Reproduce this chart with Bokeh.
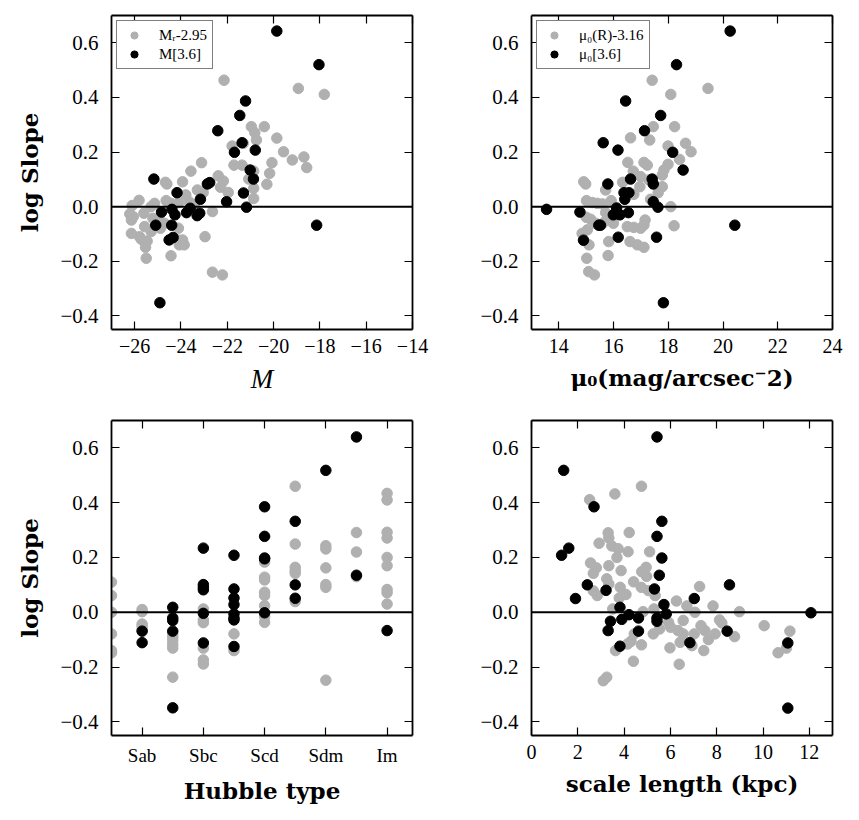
from bokeh.plotting import figure
from bokeh.layouts import column, row
from bokeh.models import (FixedTicker, LinearAxis, Span, CustomJSTickFormatter,
                          Range1d, Legend, LegendItem)
from bokeh.embed import file_html
from bokeh.resources import INLINE

# ---------------- data ----------------
# log slope versus absolute magnitude
mag_R = [-22.14, -18.93, -17.81, -20.96, -20.40, -20.81, -20.74, -19.86, -21.79, -21.31,
         -19.57, -18.69, -19.19, -18.57, -20.07, -23.11, -23.57, -21.71, -21.36, -20.86,
         -20.17, -20.29, -21.07, -20.86, -20.86, -22.39, -22.17, -22.29, -21.96, -23.93,
         -24.61, -24.67, -23.79, -23.29, -23.04, -25.81, -26.11, -25.14, -24.64, -24.43,
         -24.10, -23.64, -23.43, -25.29, -26.21, -26.06, -25.60, -26.14, -25.21, -24.93,
         -24.71, -25.57, -25.29, -24.89, -24.11, -22.64, -22.96, -26.14, -25.79, -25.71,
         -25.46, -25.53, -24.14, -23.93, -24.07, -23.86, -24.43, -25.50, -22.64, -22.21]
slope_mag_R = [0.463, 0.433, 0.411, 0.293, 0.293, 0.271, 0.244, 0.251, 0.222, 0.232,
               0.201, 0.182, 0.171, 0.143, 0.161, 0.161, 0.130, 0.152, 0.152, 0.130,
               0.122, 0.082, 0.101, 0.067, 0.030, 0.113, 0.094, 0.071, 0.052, 0.091,
               0.083, 0.089, 0.043, 0.061, 0.052, 0.023, 0.004, 0.012, 0.022, 0.012,
               0.015, 0.017, 0.006, 0.000, -0.027, -0.037, -0.024, -0.049, -0.043, -0.049,
               -0.061, -0.073, -0.091, -0.079, -0.079, -0.018, -0.110, -0.098, -0.110, -0.120,
               -0.126, -0.149, -0.122, -0.122, -0.140, -0.140, -0.180, -0.189, -0.240, -0.250]
mag_36 = [-19.86, -18.04, -21.21, -21.46, -22.41, -21.36, -21.69, -20.79, -21.01, -20.87,
          -25.17, -22.86, -22.76, -24.17, -21.30, -23.16, -22.03, -21.17, -24.84, -24.39,
          -24.26, -23.76, -23.60, -23.30, -23.19, -25.09, -24.40, -24.51, -24.34, -18.14,
          -24.91]
slope_mag_36 = [0.643, 0.520, 0.387, 0.334, 0.278, 0.234, 0.199, 0.207, 0.134, 0.101,
                0.101, 0.083, 0.088, 0.051, 0.050, 0.027, 0.018, -0.002, -0.020, -0.010,
                -0.030, -0.022, -0.006, -0.033, -0.024, -0.068, -0.068, -0.122, -0.113, -0.068,
                -0.352]

# log slope versus central surface brightness
mu_R = [17.41, 19.45, 18.09, 17.45, 18.23, 16.62, 17.32, 17.99, 18.63, 18.83,
        18.41, 16.52, 17.11, 17.23, 17.99, 17.84, 16.72, 16.99, 17.78, 14.91,
        14.98, 15.71, 16.33, 17.29, 16.96, 17.78, 17.63, 16.74, 15.91, 15.01,
        15.22, 15.40, 15.59, 17.35, 18.09, 15.71, 15.89, 15.00, 15.16, 15.74,
        15.34, 15.59, 15.99, 16.50, 16.74, 16.99, 17.15, 17.11, 18.21, 14.85,
        15.04, 15.10, 15.82, 15.80, 16.60, 16.87, 17.11, 15.02, 15.09, 15.30]
slope_mu_R = [0.463, 0.433, 0.411, 0.293, 0.293, 0.252, 0.244, 0.222, 0.232, 0.201,
              0.173, 0.162, 0.162, 0.152, 0.155, 0.134, 0.130, 0.110, 0.116, 0.091,
              0.083, 0.061, 0.089, 0.098, 0.073, 0.073, 0.051, 0.045, 0.022, 0.022,
              0.015, 0.012, 0.010, 0.027, 0.000, -0.022, -0.033, -0.039, -0.046, -0.049,
              -0.061, -0.063, -0.061, -0.073, -0.076, -0.079, -0.049, -0.067, -0.070, -0.098,
              -0.085, -0.140, -0.128, -0.179, -0.128, -0.140, -0.149, -0.189, -0.238, -0.250]
mu_36 = [20.26, 18.30, 16.44, 17.72, 17.13, 15.62, 16.16, 18.16, 18.54, 16.62,
         17.41, 17.45, 15.79, 16.38, 16.56, 16.41, 17.45, 13.55, 14.77, 16.11,
         17.62, 15.99, 16.23, 16.54, 15.46, 15.52, 20.43, 16.17, 17.57, 14.90,
         17.82]
slope_mu_36 = [0.643, 0.520, 0.387, 0.334, 0.278, 0.234, 0.207, 0.199, 0.134, 0.101,
               0.101, 0.083, 0.083, 0.051, 0.051, 0.027, 0.018, -0.010, -0.020, -0.005,
               -0.002, -0.030, -0.030, -0.022, -0.068, -0.068, -0.068, -0.112, -0.112, -0.123,
               -0.352]

# log slope versus Hubble type
hubble_types = ["Sa", "Sab", "Sb", "Sbc", "Sc", "Scd", "Sd", "Sdm", "Sm", "Im"]
hubble_tick_labels = ["Sab", "Sbc", "Scd", "Sdm", "Im"]
type_R = (["Sa"] * 6 + ["Sab"] * 5 + ["Sb"] * 6 + ["Sbc"] * 6 + ["Sc"] * 2 + ["Scd"] * 9
          + ["Sd"] * 6 + ["Sdm"] * 6 + ["Sm"] * 3 + ["Im"] * 9)
slope_type_R = [0.110, 0.061, 0.000, -0.079, -0.140, -0.148,
                0.010, 0.002, -0.043, -0.052, -0.065,
                -0.079, -0.091, -0.103, -0.118, -0.131, -0.237,
                0.012, -0.028, -0.038, -0.131, -0.174, -0.189,
                -0.079, -0.140,
                0.183, 0.128, 0.118, 0.073, 0.061, 0.024, -0.004, -0.016, -0.037,
                0.460, 0.249, 0.164, 0.152, 0.142, 0.039,
                0.243, 0.231, 0.162, 0.101, 0.091, -0.248,
                0.291, 0.220, 0.130,
                0.434, 0.410, 0.292, 0.271, 0.200, 0.170, 0.083, 0.071, 0.030]
type_36 = (["Sab"] * 2 + ["Sb"] * 5 + ["Sbc"] * 6 + ["Sc"] * 8 + ["Scd"] * 5
           + ["Sd"] * 3 + ["Sdm"] * 1 + ["Sm"] * 2 + ["Im"] * 1)
slope_type_36 = [-0.069, -0.111,
                 0.018, -0.021, -0.030, -0.069, -0.349,
                 0.234, 0.101, 0.091, 0.082, -0.004, -0.112,
                 0.208, 0.085, 0.052, 0.028, -0.006, -0.021, -0.028, -0.125,
                 0.385, 0.277, 0.198, 0.195, -0.002,
                 0.332, 0.100, 0.051,
                 0.518,
                 0.640, 0.135,
                 -0.067]

# log slope versus disc scale length
h_R = [4.75, 3.60, 2.51, 3.31, 3.34, 4.22, 2.92, 3.47, 3.74, 4.17,
       5.10, 3.69, 2.55, 2.80, 3.34, 2.67, 3.87, 4.95, 4.76, 4.97,
       3.25, 3.34, 4.41, 3.83, 4.74, 2.67, 2.84, 5.05, 5.34, 4.08,
       3.79, 7.26, 6.26, 6.71, 7.84, 7.06, 8.98, 3.51, 4.82, 5.29,
       5.92, 6.01, 6.33, 6.55, 6.55, 7.32, 7.49, 7.03, 7.64, 7.93,
       8.12, 8.22, 8.77, 10.05, 11.16, 10.65, 11.01, 6.42, 6.93, 5.98,
       7.44, 6.38, 5.26, 5.53, 4.75, 4.30, 4.15, 4.40, 3.63, 4.44,
       3.10, 3.25]
slope_h_R = [0.460, 0.432, 0.411, 0.290, 0.271, 0.291, 0.252, 0.242, 0.232, 0.221,
             0.221, 0.200, 0.180, 0.162, 0.170, 0.142, 0.152, 0.164, 0.148, 0.131,
             0.122, 0.103, 0.111, 0.091, 0.091, 0.078, 0.061, 0.079, 0.061, 0.065,
             0.052, 0.094, 0.041, 0.023, 0.023, 0.000, 0.002, 0.012, 0.002, 0.012,
             -0.037, -0.055, -0.067, -0.030, -0.079, -0.049, -0.067, -0.079, -0.100, -0.079,
             -0.028, -0.039, -0.089, -0.049, -0.069, -0.148, -0.131, -0.110, -0.122, -0.130,
             -0.140, -0.190, -0.079, -0.061, -0.119, -0.106, -0.116, -0.179, -0.140, -0.079,
             -0.250, -0.237]
h_36 = [5.42, 1.39, 2.70, 5.63, 5.42, 1.61, 1.30, 5.63, 5.52, 8.55,
        2.41, 5.31, 3.22, 1.90, 7.03, 5.72, 3.82, 12.07, 5.82, 4.21,
        3.90, 4.62, 5.42, 5.42, 3.41, 3.31, 4.62, 8.45, 6.84, 11.07,
        3.82, 11.07]
slope_h_36 = [0.640, 0.518, 0.385, 0.332, 0.277, 0.234, 0.208, 0.198, 0.135, 0.100,
              0.100, 0.085, 0.080, 0.050, 0.050, 0.028, 0.018, -0.002, -0.006, -0.009,
              -0.026, -0.021, -0.021, -0.033, -0.033, -0.067, -0.069, -0.069, -0.111, -0.112,
              -0.124, -0.350]

# ---------------- styling ----------------
GREY = "#b0b0b0"
TICK_FONT = "Liberation Serif"
LABEL_FONT = "DejaVu Serif"
Y_TICKS = [-0.4, -0.2, 0.0, 0.2, 0.4, 0.6]
MINUS_FMT = "return (Math.abs(tick) < 1e-9 ? 0 : tick).toFixed(DIG).replace('-', '\u2212');"


def blank_fmt():
    return CustomJSTickFormatter(code="return '';")


def style_axis(ax, ticks, formatter, show_labels=True, font_size="20px", standoff=8):
    ax.ticker = FixedTicker(ticks=ticks)
    ax.formatter = formatter if show_labels else blank_fmt()
    ax.major_tick_in = 8
    ax.major_tick_out = 0
    ax.minor_tick_in = 0
    ax.minor_tick_out = 0
    ax.major_tick_line_width = 1.2
    ax.major_tick_line_color = "black"
    ax.axis_line_width = 1.8
    ax.axis_line_color = "black"
    ax.major_label_text_color = "black"
    ax.axis_label_text_color = "black"
    ax.major_label_text_font = TICK_FONT
    ax.major_label_text_font_size = font_size if show_labels else "1px"
    ax.major_label_standoff = standoff if show_labels else 0


def panel(xr, x_ticks, x_fmt, left, right, top, bottom, frame_h,
          xlabel, ylabel, xlabel_style="bold", x_font_size="20px"):
    w = left + 301 + right
    h = top + frame_h + bottom
    p = figure(width=w, height=h, frame_width=301, frame_height=frame_h,
               x_range=Range1d(*xr), y_range=Range1d(-0.45, 0.7),
               output_backend="svg", toolbar_location=None,
               min_border_left=left, min_border_right=right,
               min_border_top=top, min_border_bottom=bottom)
    p.xgrid.visible = False
    p.ygrid.visible = False
    p.outline_line_color = None
    p.background_fill_color = "white"
    p.border_fill_color = "white"

    xax = p.xaxis[0]
    yax = p.yaxis[0]
    style_axis(xax, x_ticks, x_fmt, font_size=x_font_size, standoff=9)
    style_axis(yax, Y_TICKS, CustomJSTickFormatter(code=MINUS_FMT.replace("DIG", "1")),
               font_size="21px", standoff=13)

    xax.axis_label = xlabel
    xax.axis_label_text_font = LABEL_FONT if xlabel_style == "bold" else TICK_FONT
    xax.axis_label_text_font_style = xlabel_style
    xax.axis_label_text_font_size = "23px" if xlabel_style == "bold" else "27px"
    xax.axis_label_standoff = 8
    if ylabel:
        yax.axis_label = ylabel
        yax.axis_label_text_font = LABEL_FONT
        yax.axis_label_text_font_style = "bold"
        yax.axis_label_text_font_size = "23px"
        yax.axis_label_standoff = 14

    # tick marks on the top and right edges of the frame
    top_ax = LinearAxis()
    right_ax = LinearAxis()
    style_axis(top_ax, x_ticks, None, show_labels=False)
    style_axis(right_ax, Y_TICKS, None, show_labels=False)
    p.add_layout(top_ax, "above")
    p.add_layout(right_ax, "right")

    p.add_layout(Span(location=0, dimension="width", line_color="black", line_width=2))
    return p


def add_points(p, xg, yg, xb, yb, labels=None):
    rg = p.scatter(xg, yg, size=10.5, fill_color=GREY, line_color=GREY)
    rb = p.scatter(xb, yb, size=10.5, fill_color="black", line_color="black")
    if labels:
        leg = Legend(items=[LegendItem(label=labels[0], renderers=[rg]),
                            LegendItem(label=labels[1], renderers=[rb])],
                     location="top_left")
        leg.margin = 5
        leg.padding = 5
        leg.spacing = 1
        leg.glyph_width = 24
        leg.glyph_height = 18
        leg.label_height = 18
        leg.label_standoff = 13
        leg.label_text_font = TICK_FONT
        leg.label_text_font_size = "15px"
        leg.label_text_color = "black"
        leg.border_line_color = "black"
        leg.border_line_width = 1.8
        leg.background_fill_alpha = 1.0
        p.add_layout(leg)


def int_fmt():
    return CustomJSTickFormatter(code=MINUS_FMT.replace("DIG", "0"))


p1 = panel((-27, -14), list(range(-26, -13, 2)), int_fmt(), 111, 39, 15, 76, 314,
           "M", "log Slope", xlabel_style="italic")
add_points(p1, mag_R, slope_mag_R, mag_36, slope_mag_36,
           labels=["M\u1d63-2.95", "M[3.6]"])

p2 = panel((13, 24), list(range(14, 25, 2)), int_fmt(), 80, 27, 15, 76, 314,
           "\u03bc\u2080(mag/arcsec\u207b2)", None)
add_points(p2, mu_R, slope_mu_R, mu_36, slope_mu_36,
           labels=["\u03bc\u2080(R)-3.16", "\u03bc\u2080[3.6]"])

type_code = {t: i + 1 for i, t in enumerate(hubble_types)}
hubble_ticks = [type_code[t] for t in hubble_tick_labels]
hubble_fmt = CustomJSTickFormatter(
    args=dict(tpos=hubble_ticks, tlab=hubble_tick_labels),
    code="const i = tpos.indexOf(Math.round(tick)); return i >= 0 ? tlab[i] : '';")
p3 = panel((1, 10.83), hubble_ticks, hubble_fmt, 111, 39, 15, 85, 315,
           "Hubble type", "log Slope", x_font_size="19px")
add_points(p3, [type_code[t] for t in type_R], slope_type_R,
           [type_code[t] for t in type_36], slope_type_36)

p4 = panel((0, 13), list(range(0, 13, 2)), int_fmt(), 80, 27, 15, 85, 315,
           "scale length (kpc)", None)
add_points(p4, h_R, slope_h_R, h_36, slope_h_36)

layout = column(row(p1, p2), row(p3, p4))
open("out.html", "w").write(file_html(layout, INLINE))
